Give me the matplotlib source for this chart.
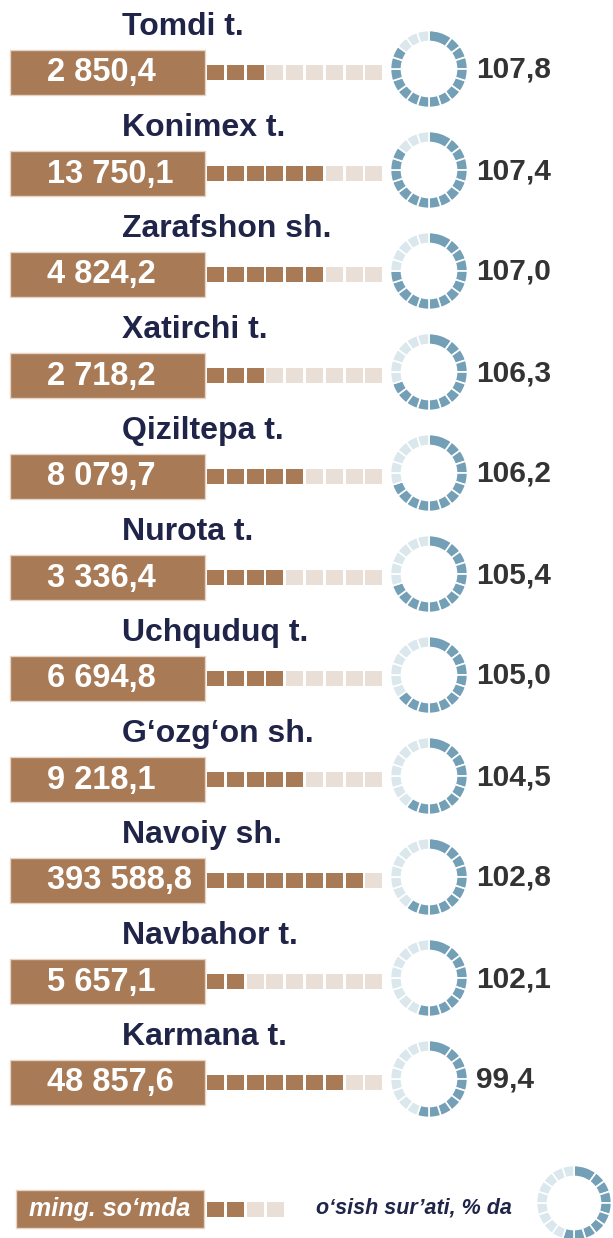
import matplotlib.pyplot as plt
from matplotlib.patches import Rectangle, Wedge
from matplotlib import font_manager

# data
districts = ['Tomdi t.', 'Konimex t.', 'Zarafshon sh.', 'Xatirchi t.', 'Qiziltepa t.',
             'Nurota t.', 'Uchquduq t.', 'G‘ozg‘on sh.', 'Navoiy sh.', 'Navbahor t.', 'Karmana t.']
amount = [2850.4, 13750.1, 4824.2, 2718.2, 8079.7, 3336.4, 6694.8, 9218.1, 393588.8, 5657.1, 48857.6]
growth = [107.8, 107.4, 107.0, 106.3, 106.2, 105.4, 105.0, 104.5, 102.8, 102.1, 99.4]
# decorative scales: filled squares (of 9) and filled ring segments (of 20)
squares_on = [3, 6, 6, 3, 5, 4, 4, 5, 8, 2, 7]
ring_on = [17, 17, 15, 14, 14, 14, 13, 12, 12, 11, 11]
legend_amount = 'ming. so‘mda'
legend_growth = 'o‘sish sur’ati, % da'

BROWN = '#A87A55'
BROWN_LIGHT = '#EADFD6'
BLUE = '#73A0B7'
BLUE_LIGHT = '#DAE7ED'
NAVY = '#1F2448'
DARK = '#333333'

# narrow bold font if we have it
try:
    font_manager.findfont(font_manager.FontProperties(family='Liberation Sans Narrow'),
                          fallback_to_default=False)
    NARROW = 'Liberation Sans Narrow'
    nscale = 1.18
except Exception:
    NARROW = 'Liberation Sans'
    nscale = 1.0

W, H = 613, 1238
fig = plt.figure(figsize=(W / 100, H / 100), dpi=100)
ax = fig.add_axes([0, 0, 1, 1])
ax.set_xlim(0, W)
ax.set_ylim(H, 0)
ax.axis('off')


def fmt(v):
    return f'{v:,.1f}'.replace(',', ' ').replace('.', ',')


def squares(x0, yc, n_on, n_total, pitch=19.8, w=17, h=15):
    for k in range(n_total):
        c = BROWN if k < n_on else BROWN_LIGHT
        ax.add_patch(Rectangle((x0 + k * pitch, yc - h / 2), w, h, color=c, lw=0))


def ring(xc, yc, n_on, n_total=20, r=38.5, width=11):
    step = 360 / n_total
    k = 0
    while k < n_total:
        span = 2 if (k == 0 and n_on >= 2) else 1
        c = BLUE if k < n_on else BLUE_LIGHT
        a0 = -90 + k * step
        ax.add_patch(Wedge((xc, yc), r, a0, a0 + span * step, width=width,
                           facecolor=c, edgecolor='white', lw=1.2))
        k += span


for i, name in enumerate(districts):
    yc = 72 + i * 101
    ax.text(122, yc - 45, name, ha='left', va='center', fontsize=23,
            fontweight='bold', color=NAVY, family='Liberation Sans')
    ax.add_patch(Rectangle((10, yc - 22.5), 195, 45, facecolor=BROWN,
                           edgecolor='#E6D3C3', lw=1))
    ax.text(47, yc + 1, fmt(amount[i]), ha='left', va='center',
            fontsize=23.5 * nscale, fontweight='bold', color='white', family=NARROW)
    squares(207, yc, squares_on[i], 9)
    ring(429, yc - 3, ring_on[i])
    ax.text(476, yc - 2, fmt(growth[i]), ha='left', va='center',
            fontsize=21.5 * nscale, fontweight='bold', color=DARK, family=NARROW)

# legend
ly = 1209
ax.add_patch(Rectangle((16, ly - 19), 188, 38, facecolor=BROWN, edgecolor='#E6D3C3', lw=1))
ax.text(110, ly, legend_amount, ha='center', va='center', fontsize=18,
        fontweight='bold', fontstyle='italic', color='white', family='Liberation Sans')
squares(207, ly, 2, 4, pitch=20)
ax.text(414, ly - 1, legend_growth, ha='center', va='center', fontsize=15.5,
        fontweight='bold', fontstyle='italic', color=NAVY, family='Liberation Sans')
ring(574, 1203, 11, r=37.5)

fig.savefig('out.png', dpi=100)
